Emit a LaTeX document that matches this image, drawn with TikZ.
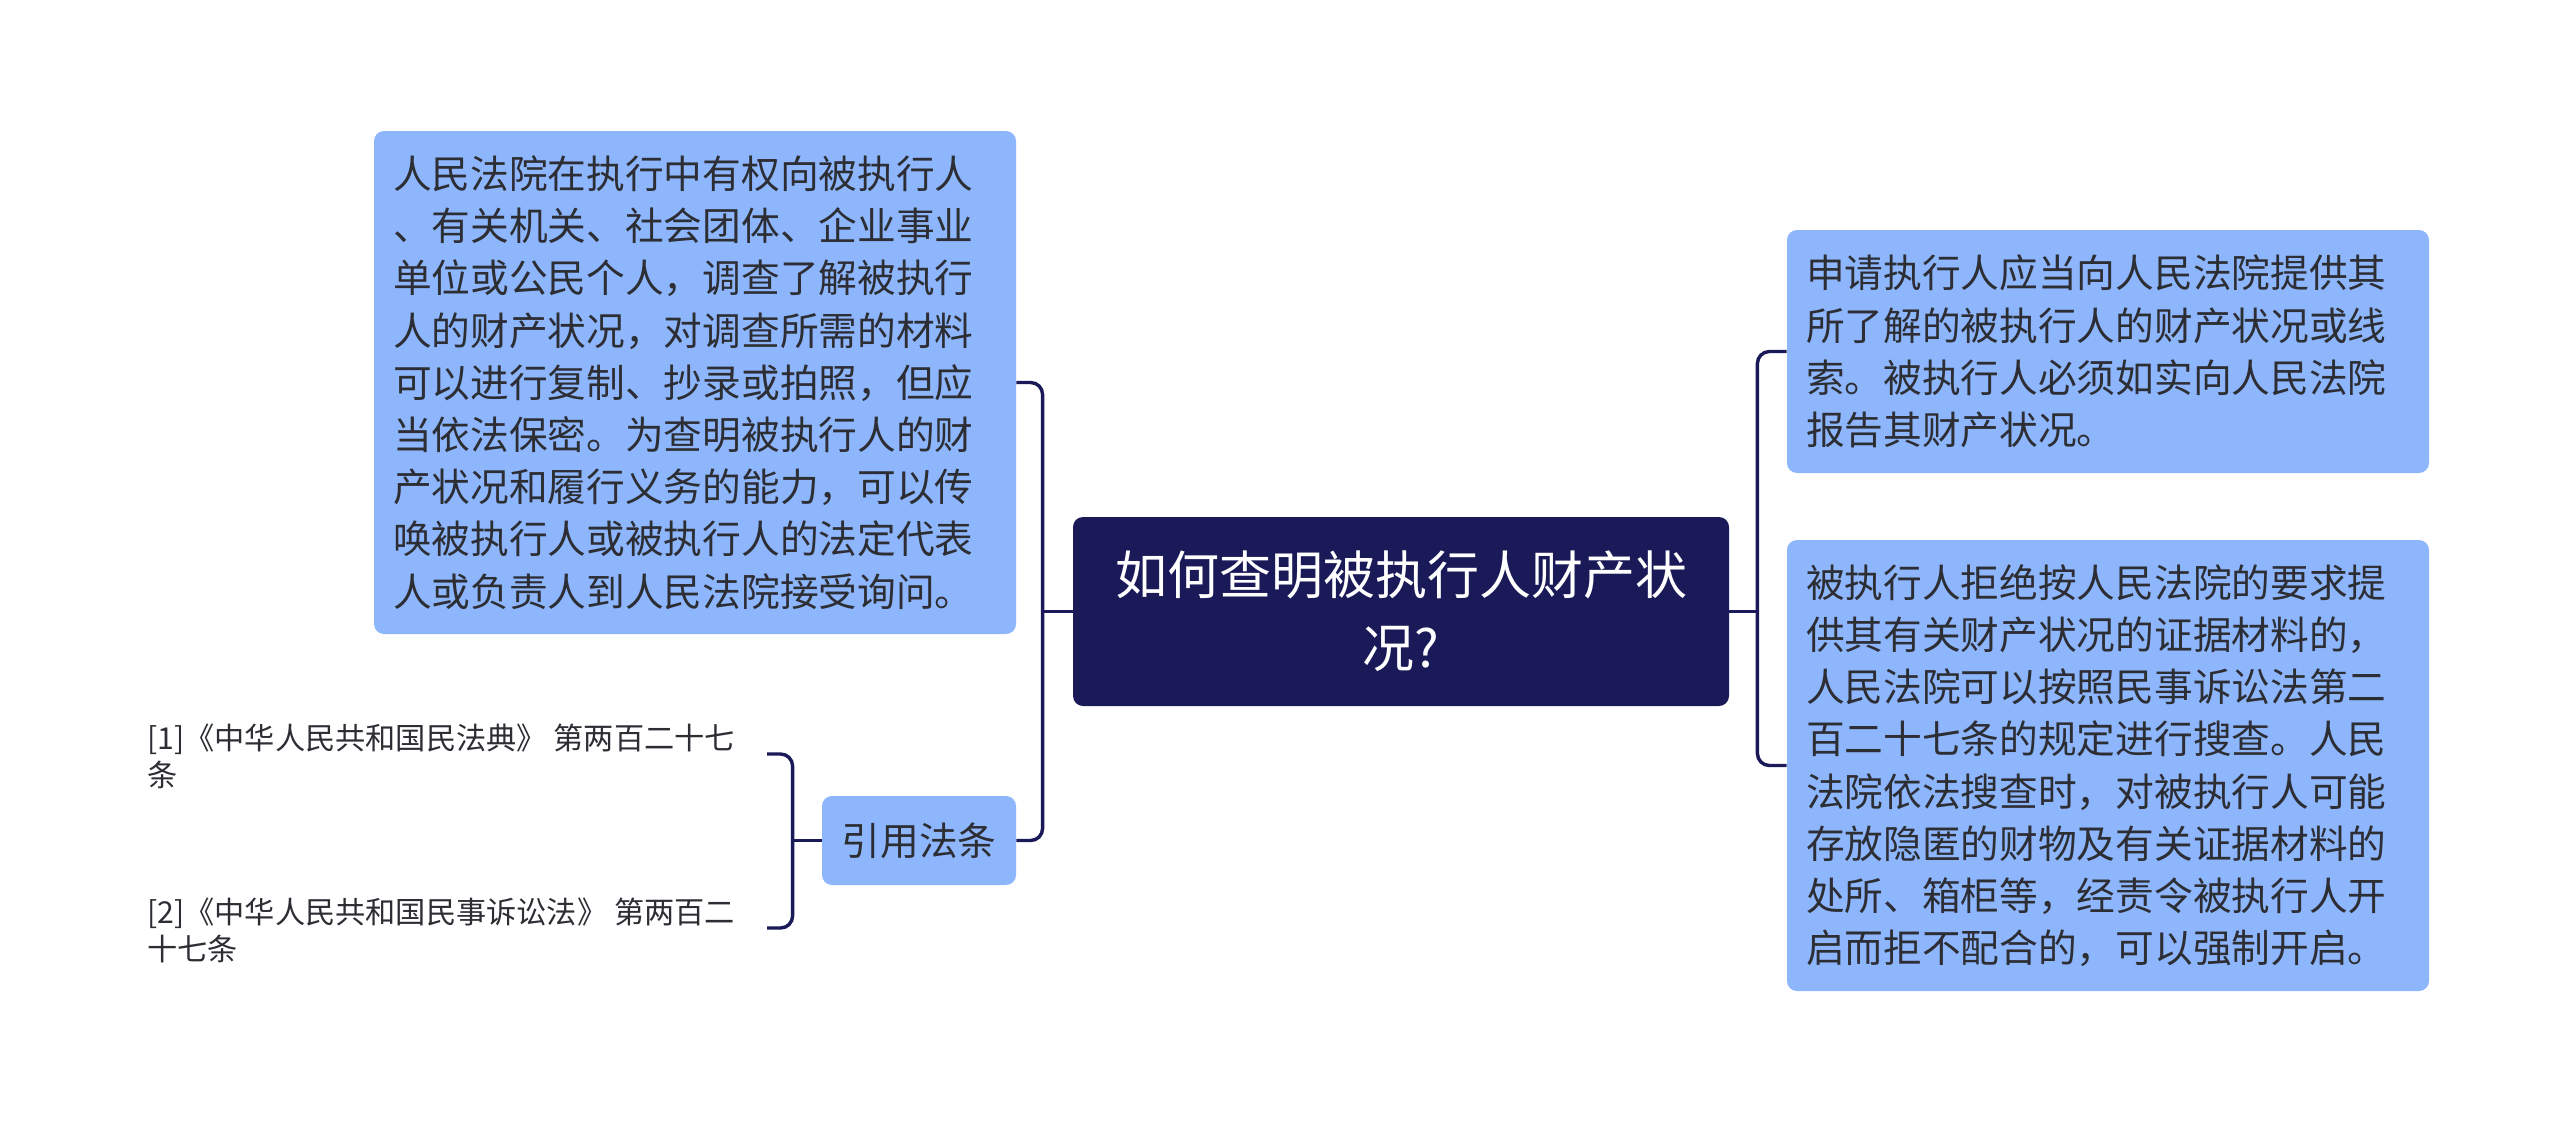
\documentclass[tikz,border=0pt]{standalone}
\usepackage{fontspec}
\setmainfont{Noto Sans CJK SC}
\usetikzlibrary{calc}
\definecolor{boxblue}{RGB}{141,182,252}
\definecolor{navy}{RGB}{27,26,88}
\definecolor{txt}{RGB}{45,45,52}
\begin{document}
\begin{tikzpicture}[x=0.5pt,y=-0.5pt,
  bluebox/.style={fill=boxblue,rounded corners=5pt,draw=none,text=txt,
    inner xsep=9.5pt,inner ysep=0pt,align=left,text width=302pt,
    font=\fontsize{19.35pt}{26.1pt}\selectfont},
  rootbox/.style={fill=navy,rounded corners=5pt,draw=none,text=white,
    align=center,inner sep=0pt,minimum width=328pt,minimum height=94.5pt,
    font=\fontsize{26pt}{36.5pt}\selectfont},
  refbox/.style={fill=boxblue,rounded corners=5pt,draw=none,text=txt,
    inner sep=0pt,minimum width=97pt,minimum height=44.5pt,
    font=\fontsize{19.35pt}{26.1pt}\selectfont},
  reftext/.style={text=txt,inner sep=0pt,anchor=west,align=left,
    font=\fontsize{15.1pt}{18.5pt}\selectfont},
  conn/.style={draw=navy,line width=1.7pt,rounded corners=6pt}]
\useasboundingbox[fill=white] (0,0) rectangle (2560,1124);

\node[rootbox] (C) at (1401,611.5) {如何查明被执行人财产状\\况?};

\node[bluebox,minimum height=251.5pt] (L) at (695,382.5) {人民法院在执行中有权向被执行人\\
、有关机关、社会团体、企业事业\\
单位或公民个人，调查了解被执行\\
人的财产状况，对调查所需的材料\\
可以进行复制、抄录或拍照，但应\\
当依法保密。为查明被执行人的财\\
产状况和履行义务的能力，可以传\\
唤被执行人或被执行人的法定代表\\
人或负责人到人民法院接受询问。};

\node[refbox] (Q) at (919,840.5) {引用法条};

\node[reftext] (T1) at (147,756.5) {[1]《中华人民共和国民法典》 第两百二十七\\条};
\node[reftext] (T2) at (147,930) {[2]《中华人民共和国民事诉讼法》 第两百二\\十七条};

\node[bluebox,minimum height=121.5pt] (R1) at (2108,351.5) {申请执行人应当向人民法院提供其\\
所了解的被执行人的财产状况或线\\
索。被执行人必须如实向人民法院\\
报告其财产状况。};

\node[bluebox,minimum height=225.5pt] (R2) at (2108,765.5) {被执行人拒绝按人民法院的要求提\\
供其有关财产状况的证据材料的，\\
人民法院可以按照民事诉讼法第二\\
百二十七条的规定进行搜查。人民\\
法院依法搜查时，对被执行人可能\\
存放隐匿的财物及有关证据材料的\\
处所、箱柜等，经责令被执行人开\\
启而拒不配合的，可以强制开启。};

% left connectors
\coordinate (jl) at ($(C.west)+(-30,0)$);
\draw[conn] (L.east) -| (jl) |- (Q.east);
\draw[conn] (C.west) -- (jl);

% right connectors
\coordinate (jr) at ($(C.east)+(28,0)$);
\draw[conn] (R1.west) -| (jr) |- (R2.west);
\draw[conn] (C.east) -- (jr);

% reference bracket
\coordinate (jb) at ($(Q.west)+(-29,0)$);
\coordinate (b1) at (767,754);
\coordinate (b2) at (767,928);
\draw[conn] (b1) -| (jb) |- (b2);
\draw[conn] (Q.west) -- (jb);
\end{tikzpicture}
\end{document}
